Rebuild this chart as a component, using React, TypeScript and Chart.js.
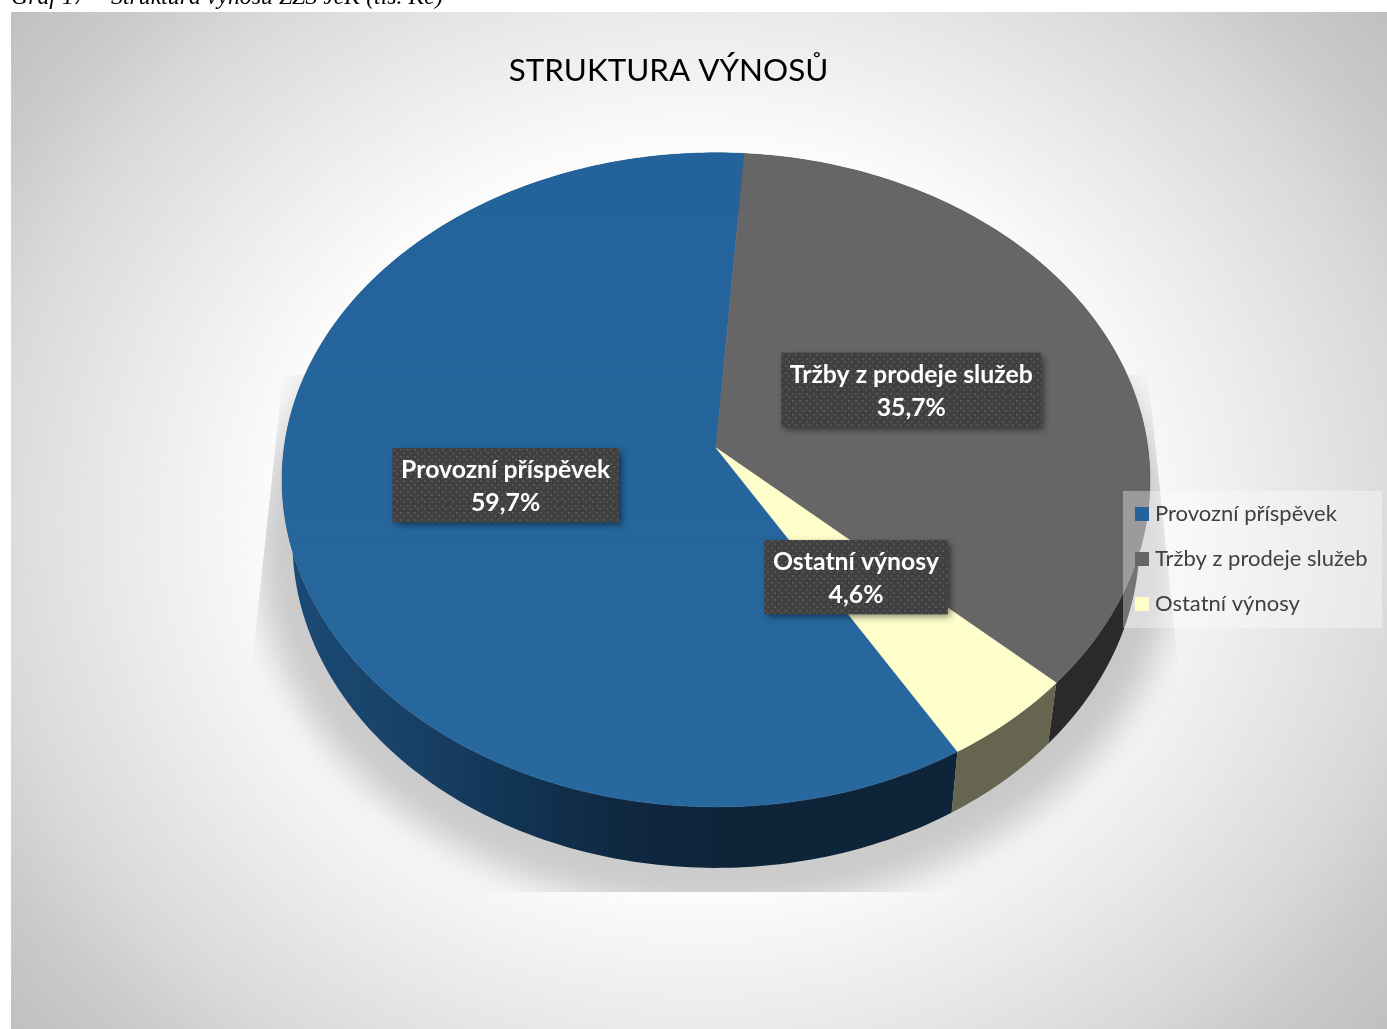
import React, { useEffect, useRef } from "react";
import { Chart, registerables } from "chart.js";

Chart.register(...registerables);

const categories = ["Provozní příspěvek", "Tržby z prodeje služeb", "Ostatní výnosy"];
const shares = [59.7, 35.7, 4.6];
const topColors = ["#24639a", "#666666", "#ffffcc"];
const wallColors = ["#123354", "#2a2a2a", "#666650"];
const chartTitle = "STRUKTURA VÝNOSŮ";
const captionParts = ["Graf 17 –", "Struktura výnosů ZZS JčK (tis. Kč)"];

const W = 1387;
const H = 1029;
const FONT = "Lato, 'Open Sans', sans-serif";

// perspective of the tilted disc
const HALF_W = 431.9;
const HALF_H = 323.9;
const PERSP = -0.0979;
const DEPTH = 61;
const BOTTOM_SCALE = 0.976;
const LABEL_FRACTION = 0.495;

function project(arc: any, angle: number, fraction = 1, lower = false) {
  const u = Math.cos(angle) * fraction;
  const v = Math.sin(angle) * fraction;
  const d = 1 + PERSP * v;
  const s = lower ? BOTTOM_SCALE : 1;
  return {
    x: arc.x + (s * HALF_W * u) / d,
    y: arc.y + (lower ? DEPTH : 0) + (HALF_H * v) / d,
  };
}

function sweep(arc: any, lower: boolean, reverse: boolean) {
  const pts: { x: number; y: number }[] = [];
  const n = Math.max(2, Math.ceil(((arc.endAngle - arc.startAngle) * 180) / Math.PI));
  for (let i = 0; i <= n; i++) {
    const t = reverse ? 1 - i / n : i / n;
    pts.push(project(arc, arc.startAngle + (arc.endAngle - arc.startAngle) * t, 1, lower));
  }
  return pts;
}

function swatch(color: string) {
  const c = document.createElement("canvas");
  c.width = 14;
  c.height = 14;
  const g = c.getContext("2d")!;
  g.fillStyle = color;
  g.fillRect(0, 0, 14, 14);
  return c;
}

function dotPattern(ctx: CanvasRenderingContext2D) {
  const c = document.createElement("canvas");
  c.width = 7;
  c.height = 7;
  const g = c.getContext("2d")!;
  g.fillStyle = "#404040";
  g.fillRect(0, 0, 7, 7);
  g.fillStyle = "#545454";
  g.fillRect(1, 1, 2, 2);
  g.fillRect(4, 4, 2, 2);
  return ctx.createPattern(c, "repeat")!;
}

const discPlugin = {
  id: "disc",
  beforeLayout(chart: any) {
    const legend = chart.legend;
    if (legend) {
      legend._layers = () => [{ z: 10, draw: (area: any) => legend.draw(area) }];
    }
  },
  afterLayout(chart: any) {
    const legend = chart.legend;
    if (legend) {
      legend.left = 1117;
      legend.right = 1387;
      legend.top = 480;
      legend.bottom = 1029;
    }
    const title = chart.titleBlock;
    if (title) {
      title.left = 0;
      title.right = 1337;
    }
  },
  beforeDraw(chart: any) {
    const ctx: CanvasRenderingContext2D = chart.ctx;
    ctx.save();
    ctx.fillStyle = "#ffffff";
    ctx.fillRect(0, 0, W, H);
    // sheet background
    ctx.save();
    ctx.beginPath();
    ctx.rect(11, 12, W - 11, H - 12);
    ctx.clip();
    ctx.translate(699, 520);
    ctx.scale(575, 509);
    const g = ctx.createRadialGradient(0, 0, 0, 0, 0, 1.56);
    const grey = (t: number) => {
      const c = Math.round(255 - 63 * t);
      return `rgb(${c},${c},${c})`;
    };
    [[0, 0], [0.7, 0.02], [1, 0.33], [1.24, 0.6], [1.4, 0.84], [1.56, 1]].forEach(([r, t]) =>
      g.addColorStop(r / 1.56, grey(t))
    );
    ctx.fillStyle = g;
    ctx.fillRect(-2, -2, 4, 4);
    ctx.restore();
    // caption above the sheet
    ctx.fillStyle = "#000";
    ctx.font = "italic 23.8px 'Liberation Serif', serif";
    ctx.textAlign = "left";
    ctx.textBaseline = "alphabetic";
    ctx.fillText(captionParts[0], 11, 4);
    ctx.fillText(captionParts[1], 111, 4);
    ctx.restore();
  },
  beforeDatasetsDraw(chart: any) {
    const ctx: CanvasRenderingContext2D = chart.ctx;
    const arcs = chart.getDatasetMeta(0).data;
    const first = arcs[0];
    // cast shadow, clipped to its perspective plane
    ctx.save();
    ctx.beginPath();
    ctx.moveTo(first.x - 433, 375);
    ctx.lineTo(first.x + 432, 375);
    ctx.lineTo(first.x + 468, 720);
    ctx.lineTo(first.x + 468, 892);
    ctx.lineTo(first.x - 470, 892);
    ctx.lineTo(first.x - 470, 720);
    ctx.closePath();
    ctx.clip();
    ctx.shadowColor = "rgba(0,0,0,0.2)";
    ctx.shadowBlur = 34;
    ctx.shadowOffsetX = 3000;
    ctx.fillStyle = "#000";
    ctx.beginPath();
    ctx.ellipse(first.x - 3000, 550, 458, 360, 0, 0, Math.PI * 2);
    ctx.fill();
    ctx.restore();

    // side walls
    arcs.forEach((arc: any, i: number) => {
      const pts = sweep(arc, false, false).concat(sweep(arc, true, true));
      let fill: any = wallColors[i];
      if (i === 0) {
        const g = ctx.createLinearGradient(arc.x - 426, 0, arc.x, 0);
        g.addColorStop(0, "#1a4a74");
        g.addColorStop(0.26, "#194268");
        g.addColorStop(0.54, "#113352");
        g.addColorStop(0.8, "#0f2740");
        g.addColorStop(1, "#0e2439");
        fill = g;
      }
      ctx.beginPath();
      pts.forEach((p, k) => (k ? ctx.lineTo(p.x, p.y) : ctx.moveTo(p.x, p.y)));
      ctx.closePath();
      ctx.fillStyle = fill;
      ctx.fill();
    });

    // top faces
    arcs.forEach((arc: any, i: number) => {
      let fill: any = topColors[i];
      if (i === 0) {
        const g = ctx.createLinearGradient(0, 152, 0, 806);
        g.addColorStop(0, "#23629a");
        g.addColorStop(1, "#27689e");
        fill = g;
      }
      ctx.beginPath();
      ctx.moveTo(arc.x, arc.y);
      sweep(arc, false, false).forEach((p) => ctx.lineTo(p.x, p.y));
      ctx.closePath();
      ctx.fillStyle = fill;
      ctx.strokeStyle = fill;
      ctx.lineWidth = 0.5;
      ctx.fill();
      ctx.stroke();
    });

    // translucent legend panel sits over the disc
    ctx.fillStyle = "rgba(255,255,255,0.35)";
    ctx.fillRect(1123, 491, 259, 137);
  },
  beforeDatasetDraw() {
    return false;
  },
  afterDatasetsDraw(chart: any) {
    const ctx: CanvasRenderingContext2D = chart.ctx;
    const arcs = chart.getDatasetMeta(0).data;
    const pattern = dotPattern(ctx);
    arcs.forEach((arc: any, i: number) => {
      const mid = (arc.startAngle + arc.endAngle) / 2;
      const c = project(arc, mid, LABEL_FRACTION);
      const cx = c.x;
      const cy = c.y;
      const pct = shares[i].toFixed(1).replace(".", ",") + "%";
      ctx.save();
      ctx.font = `bold 24.8px ${FONT}`;
      const w = ctx.measureText(categories[i]).width + 17;
      const h = 74;
      ctx.save();
      ctx.shadowColor = "rgba(0,0,0,0.5)";
      ctx.shadowBlur = 7;
      ctx.shadowOffsetX = 3;
      ctx.shadowOffsetY = 3;
      ctx.fillStyle = "#404040";
      ctx.fillRect(cx - w / 2, cy - h / 2, w, h);
      ctx.restore();
      ctx.fillStyle = pattern;
      ctx.fillRect(cx - w / 2, cy - h / 2, w, h);
      ctx.fillStyle = "#ffffff";
      ctx.textAlign = "center";
      ctx.textBaseline = "middle";
      ctx.fillText(categories[i], cx, cy - 15);
      ctx.fillText(pct, cx, cy + 18);
      ctx.restore();
    });
  },
};

export default function App() {
  const ref = useRef<HTMLCanvasElement>(null);
  useEffect(() => {
    document.body.style.margin = "0";
    document.documentElement.style.overflow = "hidden";
    const chart = new Chart(ref.current!, {
      type: "pie",
      data: {
        labels: categories,
        datasets: [{ data: shares, backgroundColor: topColors, borderWidth: 0 }],
      },
      options: {
        animation: false,
        responsive: false,
        devicePixelRatio: 1,
        rotation: 149.2,
        layout: { padding: { left: 45, right: 0, top: 0, bottom: 232 } },
        plugins: {
          title: {
            display: true,
            text: chartTitle,
            color: "#000000",
            font: { family: FONT, size: 31.4, weight: "normal", lineHeight: 1.2 },
            padding: { top: 52, bottom: 9 },
          },
          legend: {
            position: "chartArea",
            align: "start",
            labels: {
              color: "#404040",
              font: { family: FONT, size: 22 },
              padding: 23,
              usePointStyle: true,
              pointStyleWidth: 4,
              boxHeight: 14,
              generateLabels: () =>
                categories.map((text, i) => ({
                  text,
                  index: i,
                  hidden: false,
                  fillStyle: topColors[i],
                  strokeStyle: topColors[i],
                  lineWidth: 0,
                  fontColor: "#404040",
                  pointStyle: swatch(topColors[i]),
                })),
            },
          },
          tooltip: { enabled: false },
        },
      },
      plugins: [discPlugin],
    } as any);
    return () => chart.destroy();
  }, []);
  return (
    <div style={{ position: "absolute", left: 0, top: 0, width: W, height: H }}>
      <canvas ref={ref} width={W} height={H} style={{ display: "block" }} />
    </div>
  );
}
